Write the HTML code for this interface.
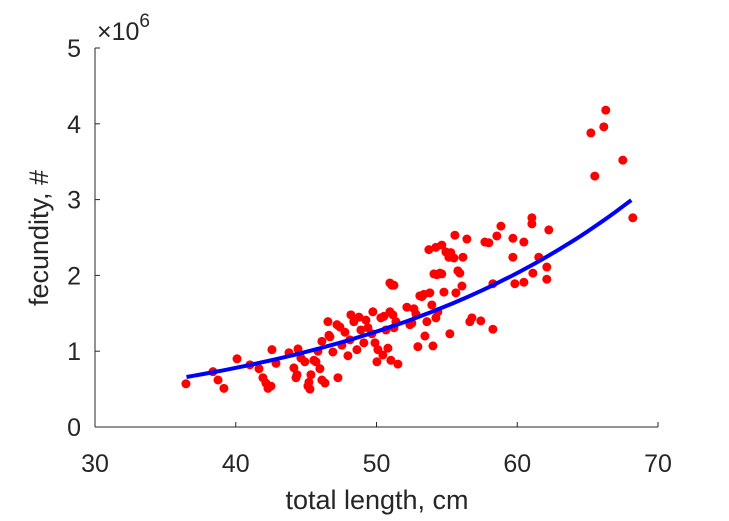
<!DOCTYPE html>
<html><head><meta charset="utf-8"><style>
body{margin:0;background:#fff;}
svg{display:block;font-family:"Liberation Sans",sans-serif;}
</style></head><body>
<svg id="chart" width="729" height="521" viewBox="0 0 729 521" xmlns="http://www.w3.org/2000/svg">
<rect width="729" height="521" fill="#fff"/>
<g id="axes"></g>
<g id="marks"></g>
</svg>
<script>
const xVals=[36.46,38.38,38.74,39.16,40.09,41.01,41.65,41.93,42.14,42.29,42.5,42.57,42.86,43.78,44.13,44.28,44.35,44.42,44.63,44.91,45.13,45.2,45.27,45.34,45.55,45.7,45.84,45.98,46.12,46.12,46.34,46.55,46.62,46.69,46.9,47.19,47.26,47.4,47.54,47.76,47.97,48.11,48.18,48.39,48.61,48.75,48.89,49.1,49.25,49.39,49.67,49.74,49.89,50.03,50.1,50.31,50.45,50.53,50.67,50.81,50.95,51.02,51.09,51.16,51.24,51.38,51.52,52.16,52.37,52.51,52.66,52.8,52.94,53.08,53.22,53.37,53.44,53.58,53.79,53.93,54.01,54.08,54.22,54.29,54.36,54.5,54.64,54.79,54.93,55.21,55.28,55.64,55.78,56.07,56.63,54.22,53.72,55.14,55.5,56.14,55.92,54.64,50.95,51.24,55.57,56.42,57.7,57.98,58.55,58.84,59.69,60.47,61.04,61.04,62.24,59.69,61.53,62.1,62.1,61.11,60.47,59.83,58.27,58.27,57.41,56.78,66.29,66.15,65.23,67.5,65.51,68.21];
const yVals=[0.57,0.73,0.62,0.51,0.90,0.82,0.77,0.65,0.58,0.51,0.54,1.02,0.84,0.98,0.78,0.65,0.69,1.03,0.91,0.86,0.54,0.59,0.50,0.69,0.88,0.86,1.0,0.77,1.13,0.62,0.58,1.39,1.21,1.19,0.99,1.35,0.65,1.32,1.08,1.25,0.94,1.15,1.48,1.39,1.02,1.45,1.28,1.11,1.41,1.31,1.23,1.52,1.11,0.86,1.02,1.44,0.95,1.46,1.28,1.04,1.52,0.88,1.87,1.48,1.31,1.39,0.83,1.58,1.35,1.37,1.56,1.49,1.06,1.73,1.72,1.75,1.2,1.39,1.77,1.61,1.07,2.02,1.44,2.01,1.52,2.03,2.4,1.78,2.31,1.23,2.3,1.77,2.06,1.86,1.39,2.37,2.34,2.24,2.23,2.24,2.03,2.02,1.9,1.87,2.53,2.48,2.44,2.43,2.52,2.65,2.49,2.44,2.76,2.68,2.6,2.24,2.24,2.11,1.95,2.03,1.91,1.89,1.89,1.29,1.4,1.44,4.18,3.96,3.88,3.52,3.31,2.76];
const xTicks=[30,40,50,60,70];
const yTicks=[0,1,2,3,4,5];
const fitA=0.66, fitB=0.04785, fitX0=36.5, fitX1=68.1;

const X=v=>95+(v-30)*(563/40);
const Y=v=>427-v*(379/5);
const NS="http://www.w3.org/2000/svg";
function mk(tag,attrs,parent){const e=document.createElementNS(NS,tag);for(const k in attrs)e.setAttribute(k,attrs[k]);parent.appendChild(e);return e;}
const axes=document.getElementById('axes'), marks=document.getElementById('marks');
const xa=mk('line',{x1:X(30),y1:Y(0),x2:X(70),y2:Y(0),stroke:'#262626','stroke-width':1},axes);


const ya=mk('line',{x1:X(30),y1:Y(0),x2:X(30),y2:Y(5),stroke:'#262626','stroke-width':1},axes);


xTicks.forEach(t=>{
  mk('line',{x1:X(t),y1:Y(0),x2:X(t),y2:Y(0)-5,stroke:'#262626'},axes);
  const tx=mk('text',{x:X(t),y:Y(0)+45,'text-anchor':'middle','font-size':25,fill:'#262626'},axes);
  tx.textContent=t;
  
  
});
yTicks.forEach(t=>{
  mk('line',{x1:X(30),y1:Y(t),x2:X(30)+5,y2:Y(t),stroke:'#262626'},axes);
  const tx=mk('text',{x:X(30)-14,y:Y(t)+9,'text-anchor':'end','font-size':25,fill:'#262626'},axes);
  tx.textContent=t;
  
  
});
const ex=mk('text',{x:97,y:40,'font-size':25,fill:'#262626'},axes);
ex.innerHTML='×10<tspan dy="-13" font-size="19">6</tspan>';


const xt=mk('text',{x:377,y:509,'text-anchor':'middle','font-size':27,fill:'#262626'},axes);
xt.textContent='total length, cm';


const yt=mk('text',{x:48,y:238,'text-anchor':'middle','font-size':27,fill:'#262626',transform:'rotate(-90 48 238)'},axes);
yt.textContent='fecundity, #';


for(let i=0;i<xVals.length;i++){
  const c=mk('circle',{cx:X(xVals[i]),cy:Y(yVals[i]),r:4.5,fill:'#ff0000'},marks);
  
  
}
let d='';
for(let i=0;i<=60;i++){const x=fitX0+(fitX1-fitX0)*i/60;const y=fitA*Math.exp(fitB*(x-fitX0));d+=(i?'L':'M')+X(x).toFixed(1)+','+Y(y).toFixed(1);}
const fit=mk('path',{d:d,fill:'none',stroke:'#0000ff','stroke-width':4},marks);


</script>
</body></html>
